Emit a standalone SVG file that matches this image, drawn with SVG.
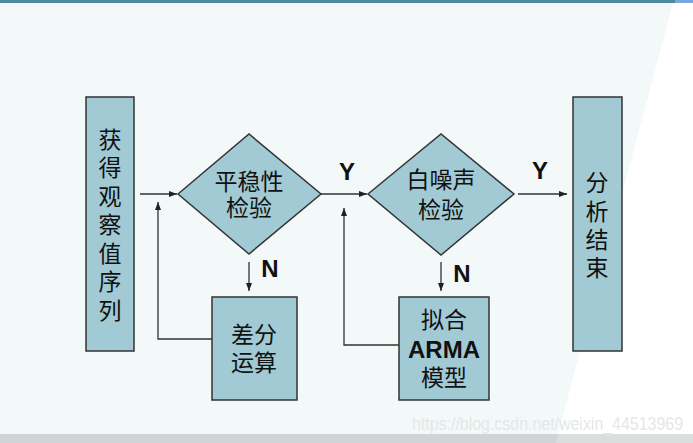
<svg xmlns="http://www.w3.org/2000/svg" width="693" height="443" viewBox="0 0 693 443">
<style>
.node{fill:#a1cad4;stroke:#333;stroke-width:1.5}
.cj{font-family:"Noto Sans CJK SC","Noto Sans",sans-serif;font-size:23px;fill:#111;text-anchor:middle}
.lat{font-family:"Liberation Sans",Arial,sans-serif;font-size:24px;font-weight:bold;fill:#111;text-anchor:middle}
.edge{fill:none;stroke:#333;stroke-width:1.3}
</style>
<defs>
<marker id="ah" viewBox="0 0 8 8" refX="8" refY="4" markerWidth="8" markerHeight="8" markerUnits="userSpaceOnUse" orient="auto">
<path d="M0,1 L8,4 L0,7 Z" fill="#222"/>
</marker>
</defs>
<g id="background">
<rect x="0" y="0" width="693" height="443" fill="#ffffff"/>
<polygon points="0,3 673,3 558,434 0,434" fill="#f3f8f8"/>
<rect x="0" y="0" width="675" height="3" fill="#4d8c9e"/>
<rect x="675" y="0" width="18" height="3" fill="#7aa6e0"/>
<rect x="0" y="434" width="693" height="9" fill="#d0d4d4"/>
<polygon points="558,434 693,434 693,443 556,443" fill="#dcdede"/>
</g>
<g id="connectors">
<line class="edge" x1="140" y1="194" x2="177" y2="194" marker-end="url(#ah)"/>
<polyline class="edge" points="212,339 158,339 158,202" marker-end="url(#ah)"/>
<line class="edge" x1="321" y1="194" x2="367" y2="194" marker-end="url(#ah)"/>
<polyline class="edge" points="399,345 344,345 344,208" marker-end="url(#ah)"/>
<line class="edge" x1="518" y1="194" x2="567" y2="194" marker-end="url(#ah)"/>
<line class="edge" x1="249" y1="262" x2="249" y2="291" marker-end="url(#ah)"/>
<line class="edge" x1="441" y1="262" x2="441" y2="291" marker-end="url(#ah)"/>
<text class="lat" x="347" y="180">Y</text>
<text class="lat" x="540" y="179">Y</text>
<text class="lat" x="270" y="277">N</text>
<text class="lat" x="462" y="282">N</text>
</g>
<g id="start">
<rect class="node" x="86" y="97" width="48" height="254"/>
<text class="cj" x="110" y="148">获</text>
<text class="cj" x="110" y="176">得</text>
<text class="cj" x="110" y="205">观</text>
<text class="cj" x="110" y="233">察</text>
<text class="cj" x="110" y="262">值</text>
<text class="cj" x="110" y="290">序</text>
<text class="cj" x="110" y="319">列</text>
</g>
<g id="stationarity">
<polygon class="node" points="178,194 249,134 321,194 249,254"/>
<text class="cj" x="249" y="190">平稳性</text>
<text class="cj" x="249" y="216">检验</text>
</g>
<g id="difference">
<rect class="node" x="212" y="297" width="85" height="103"/>
<text class="cj" x="254" y="343">差分</text>
<text class="cj" x="254" y="371">运算</text>
</g>
<g id="whitenoise">
<polygon class="node" points="368,194 441,134 514,194 441,255"/>
<text class="cj" x="441" y="188">白噪声</text>
<text class="cj" x="441" y="218">检验</text>
</g>
<g id="arma">
<rect class="node" x="399" y="297" width="90" height="103"/>
<text class="cj" x="444" y="328">拟合</text>
<text class="lat" x="444" y="358">ARMA</text>
<text class="cj" x="444" y="386">模型</text>
</g>
<g id="end">
<rect class="node" x="573" y="97" width="49" height="254"/>
<text class="cj" x="597" y="191">分</text>
<text class="cj" x="597" y="220">析</text>
<text class="cj" x="597" y="248">结</text>
<text class="cj" x="597" y="276">束</text>
</g>
<text x="412" y="430" font-family="Liberation Sans,Arial,sans-serif" font-size="18" fill="#e4e8e8" textLength="271" lengthAdjust="spacingAndGlyphs">https://blog.csdn.net/weixin_44513969</text>
</svg>
